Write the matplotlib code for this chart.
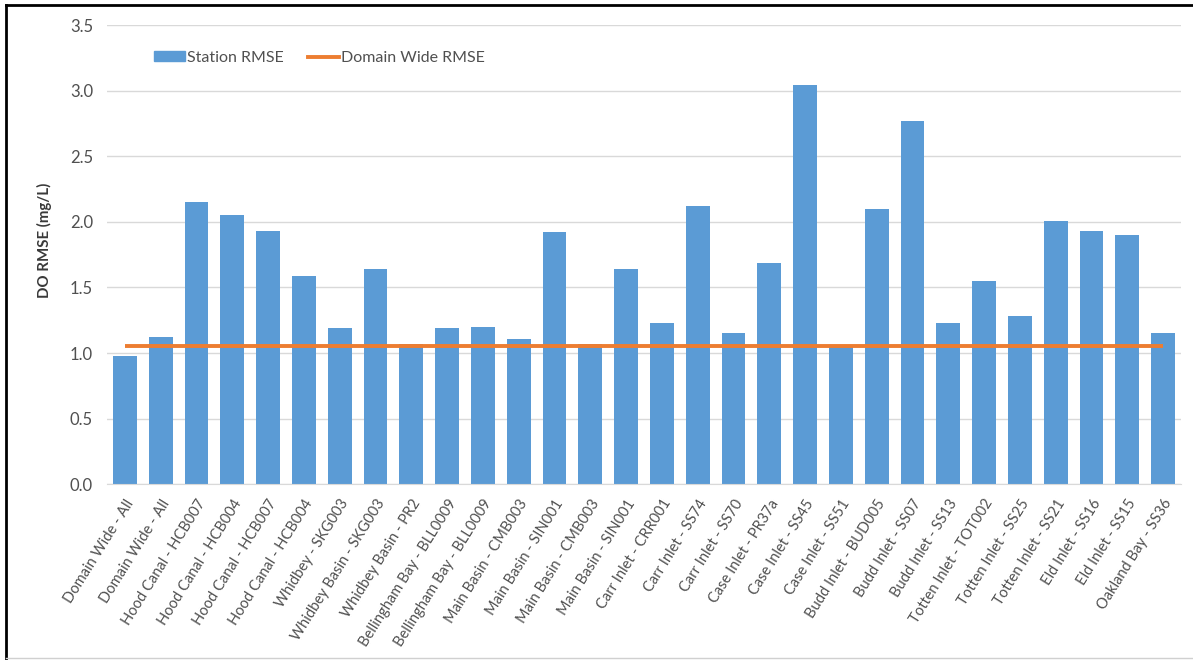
import matplotlib
matplotlib.use("Agg")
import matplotlib.pyplot as plt
from matplotlib.lines import Line2D

categories = [
    "Domain Wide - All", "Domain Wide - All", "Hood Canal - HCB007", "Hood Canal - HCB004",
    "Hood Canal - HCB007", "Hood Canal - HCB004", "Whidbey - SKG003", "Whidbey Basin - SKG003",
    "Whidbey Basin - PR2", "Bellingham Bay - BLL0009", "Bellingham Bay - BLL0009",
    "Main Basin - CMB003", "Main Basin - SIN001", "Main Basin - CMB003", "Main Basin - SIN001",
    "Carr Inlet - CRR001", "Carr Inlet - SS74", "Carr Inlet - SS70", "Case Inlet - PR37a",
    "Case Inlet - SS45", "Case Inlet - SS51", "Budd Inlet - BUD005", "Budd Inlet - SS07",
    "Budd Inlet - SS13", "Totten Inlet - TOT002", "Totten Inlet - SS25", "Totten Inlet - SS21",
    "Eld Inlet - SS16", "Eld Inlet - SS15", "Oakland Bay - SS36",
]
station_rmse = [
    0.975, 1.125, 2.15, 2.05, 1.93, 1.59, 1.19, 1.64, 1.07, 1.19, 1.20,
    1.11, 1.92, 1.07, 1.64, 1.23, 2.12, 1.15, 1.69, 3.04, 1.06, 2.10, 2.77,
    1.23, 1.55, 1.28, 2.01, 1.93, 1.90, 1.155,
]
domain_wide_rmse = [1.054] * len(categories)
yticks = [0.0, 0.5, 1.0, 1.5, 2.0, 2.5, 3.0, 3.5]

plt.rcParams['font.family'] = ['Lato', 'DejaVu Sans']
W, H = 1193, 660
fig = plt.figure(figsize=(W / 100, H / 100), dpi=100)
ax = fig.add_axes([107 / W, 1 - 484.3 / H, (1181 - 107) / W, (484.3 - 25) / H])

x = list(range(len(categories)))
ax.bar(x, station_rmse, width=0.67, color="#5B9BD5", zorder=2, label="Station RMSE")
ax.plot(x, domain_wide_rmse, color="#ED7D31", linewidth=2.8, zorder=3, solid_capstyle='butt',
        label="Domain Wide RMSE")

ax.set_xlim(-0.5, len(categories) - 0.5)
ax.set_ylim(0, 3.5)
ax.set_yticks(yticks)
ax.set_yticklabels([f"{v:.1f}" for v in yticks], fontsize=12, color="#505050")
ax.yaxis.grid(True, color="#D9D9D9", linewidth=1.0, zorder=0)
ax.set_axisbelow(True)
for s in ["top", "right", "left"]:
    ax.spines[s].set_visible(False)
ax.spines["bottom"].set_color("#D9D9D9")
ax.tick_params(axis='both', length=0, pad=10)
ax.set_xticks(x)
ax.set_xticklabels(categories, rotation=58, ha="right", rotation_mode="anchor",
                   fontsize=10.5, color="#505050")
ax.tick_params(axis='x', pad=9)

ax.set_ylabel("DO RMSE (mg/L)", fontsize=10.8, color="#3A3A3A", fontweight="bold")
ax.yaxis.set_label_coords(-0.051, 0.532)

handles = [plt.Rectangle((0, 0), 1, 1, color="#5B9BD5"),
           Line2D([0], [0], color="#ED7D31", linewidth=2.8)]
ax.legend(handles, ["Station RMSE", "Domain Wide RMSE"], loc="upper left",
          bbox_to_anchor=(0.03, 0.975), ncol=2, frameon=False, fontsize=11.5,
          labelcolor="#505050", handlelength=1.95, handletextpad=0.15, columnspacing=1.5,
          handleheight=0.6)

# outer frame (top and left visible, faint bottom)
fig.add_artist(Line2D([6 / W, 6 / W], [0, 1 - 5 / H], color="black", linewidth=2.0,
                      transform=fig.transFigure))
fig.add_artist(Line2D([6 / W, 1], [1 - 5 / H, 1 - 5 / H], color="black", linewidth=2.0,
                      transform=fig.transFigure))
fig.add_artist(Line2D([6 / W, 1], [1 - 658 / H, 1 - 658 / H], color="#D0D0D0", linewidth=1.0,
                      transform=fig.transFigure))

fig.savefig("out.png", dpi=100)
